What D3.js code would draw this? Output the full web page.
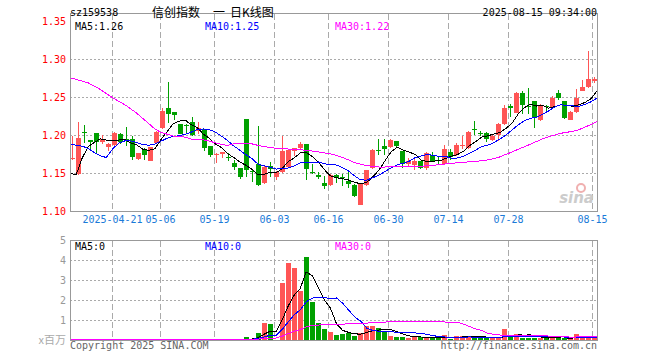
<!DOCTYPE html>
<html>
<head>
<meta charset="utf-8">
<script src="https://cdn.jsdelivr.net/npm/d3@7"></script>
<style>
body{margin:0;background:#fff;}
text{font-family:"DejaVu Sans Mono",monospace;font-size:10px;}
</style>
</head>
<body>
<div id="chart"></div>
<script>
// daily bars, 2025-04-10 .. 2025-08-15
var dates = ["04-10","04-11","04-14","04-15","04-16","04-17","04-18","04-21","04-22","04-23",
  "04-24","04-25","04-28","04-29","04-30","05-06","05-07","05-08","05-09","05-12",
  "05-13","05-14","05-15","05-16","05-19","05-20","05-21","05-22","05-23","05-26",
  "05-27","05-28","05-29","05-30","06-03","06-04","06-05","06-06","06-09","06-10",
  "06-11","06-12","06-13","06-16","06-17","06-18","06-19","06-20","06-23","06-24",
  "06-25","06-26","06-27","06-30","07-01","07-02","07-03","07-04","07-07","07-08",
  "07-09","07-10","07-11","07-14","07-15","07-16","07-17","07-18","07-21","07-22",
  "07-23","07-24","07-25","07-28","07-29","07-30","07-31","08-01","08-04","08-05",
  "08-06","08-07","08-08","08-11","08-12","08-13","08-14","08-15"];

var open = [1.170,1.149,1.205,1.194,1.203,1.191,1.185,1.188,1.202,1.196,
  1.195,1.169,1.182,1.167,1.190,1.210,1.236,1.231,1.215,1.214,
  1.218,1.206,1.208,1.186,1.175,1.176,1.172,1.164,1.157,1.222,
  1.153,1.163,1.138,1.160,1.145,1.152,1.159,1.180,1.184,1.189,
  1.152,1.148,1.138,1.135,1.148,1.146,1.140,1.135,1.109,1.135,
  1.157,1.181,1.186,1.185,1.193,1.180,1.163,1.161,1.166,1.157,
  1.174,1.168,1.163,1.178,1.174,1.188,1.183,1.209,1.203,1.203,
  1.194,1.201,1.215,1.239,1.230,1.256,1.239,1.245,1.220,1.239,
  1.237,1.256,1.245,1.221,1.231,1.258,1.264,1.272];
var close = [1.171,1.197,1.204,1.191,1.191,1.195,1.189,1.203,1.192,1.195,
  1.172,1.177,1.174,1.185,1.205,1.232,1.228,1.227,1.202,1.213,
  1.201,1.210,1.183,1.174,1.176,1.178,1.170,1.158,1.145,1.154,
  1.152,1.135,1.159,1.156,1.152,1.179,1.181,1.184,1.189,1.156,
  1.151,1.145,1.134,1.148,1.144,1.145,1.136,1.120,1.136,1.155,
  1.181,1.180,1.182,1.194,1.186,1.163,1.166,1.166,1.157,1.177,
  1.166,1.167,1.182,1.172,1.188,1.188,1.205,1.208,1.202,1.195,
  1.200,1.215,1.236,1.236,1.256,1.240,1.238,1.224,1.240,1.238,
  1.250,1.249,1.223,1.231,1.250,1.264,1.274,1.274];
var high = [1.200,1.218,1.214,1.194,1.203,1.201,1.190,1.205,1.203,1.211,
  1.199,1.177,1.183,1.185,1.206,1.236,1.271,1.231,1.215,1.215,
  1.224,1.218,1.208,1.186,1.177,1.178,1.177,1.168,1.157,1.222,
  1.156,1.213,1.161,1.165,1.153,1.199,1.182,1.184,1.192,1.189,
  1.163,1.152,1.147,1.150,1.150,1.150,1.152,1.136,1.137,1.155,
  1.182,1.196,1.196,1.196,1.193,1.180,1.170,1.172,1.166,1.178,
  1.178,1.172,1.188,1.182,1.190,1.199,1.206,1.219,1.206,1.204,
  1.201,1.216,1.240,1.242,1.257,1.259,1.262,1.245,1.242,1.240,
  1.252,1.260,1.245,1.232,1.261,1.273,1.311,1.277];
var low = [1.168,1.148,1.190,1.181,1.177,1.189,1.180,1.186,1.189,1.186,
  1.168,1.168,1.168,1.166,1.189,1.209,1.217,1.220,1.202,1.203,
  1.200,1.202,1.179,1.172,1.164,1.170,1.166,1.155,1.143,1.145,
  1.139,1.133,1.136,1.146,1.141,1.151,1.158,1.173,1.182,1.141,
  1.149,1.143,1.130,1.133,1.137,1.133,1.131,1.119,1.108,1.134,
  1.156,1.174,1.174,1.184,1.183,1.157,1.158,1.154,1.156,1.155,
  1.165,1.162,1.162,1.168,1.173,1.182,1.182,1.201,1.199,1.191,
  1.193,1.193,1.214,1.225,1.229,1.228,1.228,1.210,1.219,1.231,
  1.236,1.247,1.222,1.220,1.229,1.258,1.262,1.269];
// volume, x 百万
var volume = [0.04,0.03,0.05,0.03,0.02,0.03,0.02,0.04,0.03,0.02,
  0.03,0.02,0.03,0.02,0.04,0.05,0.04,0.03,0.03,0.02,
  0.02,0.03,0.02,0.02,0.03,0.02,0.03,0.02,0.03,0.13,
  0.03,0.35,0.86,0.80,0.02,2.87,3.87,3.62,2.47,4.17,
  1.92,0.87,0.57,0.42,0.25,0.30,0.37,0.20,0.33,0.70,
  0.70,0.58,0.42,0.20,0.15,0.15,0.10,0.20,0.15,0.13,
  0.08,0.08,0.25,0.05,0.20,0.20,0.17,0.13,0.12,0.08,
  0.12,0.08,0.55,0.22,0.30,0.08,0.12,0.12,0.10,0.08,
  0.10,0.10,0.12,0.08,0.30,0.10,0.20,0.10];
// closes of the 29 sessions before 04-10 (only feed the moving averages)
var preClose = [1.263,1.268,1.262,1.318,1.330,1.352,1.362,1.330,1.328,1.338,
  1.355,1.380,1.390,1.410,1.370,1.300,1.300,1.225,1.235,1.276,
  1.214,1.215,1.220,1.244,1.240,1.212,1.094,1.114,1.164];

var priceTicks = [1.10,1.15,1.20,1.25,1.30,1.35];
var volTicks = [1,2,3,4,5];
var labelDays = ["04-21","05-06","05-19","06-03","06-16","06-30","07-14","07-28","08-15"];
var labelText = ["2025-04-21","05-06","05-19","06-03","06-16","06-30","07-14","07-28","08-15"];

var RED = "#ff5555", GREEN = "#00a000", GRID = "#aaa";
var left = 70, right = 597;

var svg = d3.select("#chart").append("svg")
    .attr("width", 660)
    .attr("height", 360);

var x = d3.scalePoint().domain(dates).range([72.5, 594.5]);
var xl = d3.scaleLinear().domain([0, dates.length - 1]).range([left, right]);
var y = d3.scaleLinear().domain([1.10, 1.35]).range([211.5, 21.5]);
var yv = d3.scaleLinear().domain([0, 5]).range([340, 240]);

var maColors = {5: "#000", 10: "#0000ff", 30: "#ff00ff"};

function movAvg(arr, n, pre){
    var full = pre.concat(arr), off = pre.length, res = [];
    for (var i = 0; i < arr.length; i++){
        var s = 0, c = 0;
        for (var j = Math.max(0, i + off - n + 1); j <= i + off; j++){ s += full[j]; c++; }
        res.push(s / c);
    }
    return res;
}

var bars = dates.map(function(d, i){
    return {date: d, o: open[i], c: close[i], h: high[i], l: low[i], v: volume[i],
            up: close[i] >= open[i]};
});

// ---------- frames and grid ----------
function grid(top, bottom, hLines){
    svg.append("g").selectAll("line.h").data(hLines).enter().append("line")
        .attr("x1", left).attr("x2", right)
        .attr("y1", function(d){ return d; }).attr("y2", function(d){ return d; })
        .attr("stroke", GRID).attr("stroke-dasharray", "2,2")
        .attr("shape-rendering", "crispEdges");
    svg.append("g").selectAll("line.v").data(labelDays).enter().append("line")
        .attr("x1", function(d){ return x(d) - 2; }).attr("x2", function(d){ return x(d) - 2; })
        .attr("y1", top).attr("y2", bottom)
        .attr("stroke", GRID).attr("stroke-dasharray", "6,3")
        .attr("shape-rendering", "crispEdges");
}
grid(14, 211, [1.15,1.20,1.25,1.30].map(function(v){ return y(v); }));
grid(241, 340, [1,2,3,4].map(function(v){ return yv(v); }));

// ---------- candles ----------
var cg = svg.append("g").attr("shape-rendering", "crispEdges");
cg.selectAll("line.wick").data(bars).enter().append("line")
    .attr("x1", function(d){ return x(d.date); }).attr("x2", function(d){ return x(d.date); })
    .attr("y1", function(d){ return y(d.h); }).attr("y2", function(d){ return y(d.l); })
    .attr("stroke", function(d){ return d.up ? RED : GREEN; });
cg.selectAll("rect.body").data(bars).enter().append("rect")
    .attr("x", function(d){ return x(d.date) - 2.5; })
    .attr("width", 5)
    .attr("y", function(d){ return y(Math.max(d.o, d.c)); })
    .attr("height", function(d){ return Math.max(1, Math.abs(y(d.o) - y(d.c))); })
    .attr("fill", function(d){ return d.up ? RED : GREEN; });

// ---------- volume ----------
cg.selectAll("rect.vol").data(bars).enter().append("rect")
    .attr("x", function(d){ return x(d.date) - 2.5; })
    .attr("width", 5)
    .attr("y", function(d){ return yv(d.v); })
    .attr("height", function(d){ return yv(0) - yv(d.v); })
    .attr("fill", function(d){ return d.up ? RED : GREEN; });

// ---------- moving averages ----------
var priceMA = {}, volMA = {};
[5, 10, 30].forEach(function(n){
    priceMA[n] = movAvg(close, n, preClose);
    volMA[n] = movAvg(volume, n, []);
});
function drawLine(vals, sy, col){
    svg.append("path")
        .datum(vals)
        .attr("fill", "none")
        .attr("stroke", col)
        .attr("stroke-width", 1)
        .attr("shape-rendering", "crispEdges")
        .attr("d", d3.line().x(function(d, i){ return xl(i); }).y(function(d){ return sy(d); }));
}
[5, 10, 30].forEach(function(n){
    drawLine(priceMA[n], y, maColors[n]);
    drawLine(volMA[n], yv, maColors[n]);
});

// frames on top
svg.append("rect").attr("x", left + 0.5).attr("y", 13.5).attr("width", right - left).attr("height", 198)
    .attr("fill", "none").attr("stroke", "#999");
svg.append("rect").attr("x", left + 0.5).attr("y", 240.5).attr("width", right - left).attr("height", 100)
    .attr("fill", "none").attr("stroke", "#999");

// ---------- axes text ----------
svg.append("g").selectAll("text").data(priceTicks).enter().append("text")
    .attr("x", 66).attr("y", function(d){ return y(d) + 3.5; })
    .attr("text-anchor", "end").attr("fill", "#ff0000")
    .text(function(d){ return d3.format(".2f")(d); });
svg.append("g").selectAll("text").data(volTicks).enter().append("text")
    .attr("x", 66).attr("y", function(d){ return yv(d) + 3.5; })
    .attr("text-anchor", "end").attr("fill", "#999")
    .text(function(d){ return d; });
svg.append("text").attr("x", 66).attr("y", 344).attr("text-anchor", "end")
    .attr("fill", "#aaa").style("font-family", "'Noto Sans CJK SC', sans-serif").style("font-size", "11px")
    .text("x百万");
svg.append("g").selectAll("text").data(labelDays).enter().append("text")
    .attr("x", function(d){ return x(d) - 2; }).attr("y", 223)
    .attr("text-anchor", "middle").attr("fill", "#1a7ad8")
    .text(function(d, i){ return labelText[i]; });

// ---------- header / legends ----------
svg.append("text").attr("x", 70).attr("y", 16).text("sz159538");
var title = svg.append("text").attr("y", 17)
    .style("font-family", "'Noto Sans CJK SC', sans-serif").style("font-size", "12px");
title.append("tspan").attr("x", 152).text("信创指数");
title.append("tspan").attr("x", 213).text("一");
title.append("tspan").attr("x", 230).text("日K线图");
svg.append("text").attr("x", 597).attr("y", 16).attr("text-anchor", "end").text("2025-08-15 09:34:00");

var last = dates.length - 1;
var legX = {5: 75, 10: 205, 30: 335};
[5, 10, 30].forEach(function(n){
    svg.append("text").attr("x", legX[n]).attr("y", 29.5).attr("fill", maColors[n])
        .text("MA" + n + ":" + d3.format(".2f")(priceMA[n][last]));
    svg.append("text").attr("x", legX[n]).attr("y", 250).attr("fill", maColors[n])
        .text("MA" + n + ":" + d3.format(".0f")(volMA[n][last]));
});

svg.append("text").attr("x", 70).attr("y", 349).attr("fill", "#666").text("Copyright 2025 SINA.COM");
svg.append("text").attr("x", 597).attr("y", 349).attr("text-anchor", "end").attr("fill", "#666")
    .text("http://finance.sina.com.cn");

// sina watermark
svg.append("circle").attr("cx", 581).attr("cy", 188).attr("r", 4)
    .attr("fill", "none").attr("stroke", "#f0b0b0").attr("stroke-width", 2);
svg.append("text").attr("x", 594).attr("y", 203).attr("text-anchor", "end")
    .style("font-family", "'DejaVu Sans', sans-serif").style("font-size", "15px")
    .style("font-style", "italic").style("font-weight", "bold")
    .attr("fill", "#ccc").text("sina");
</script>
</body>
</html>
